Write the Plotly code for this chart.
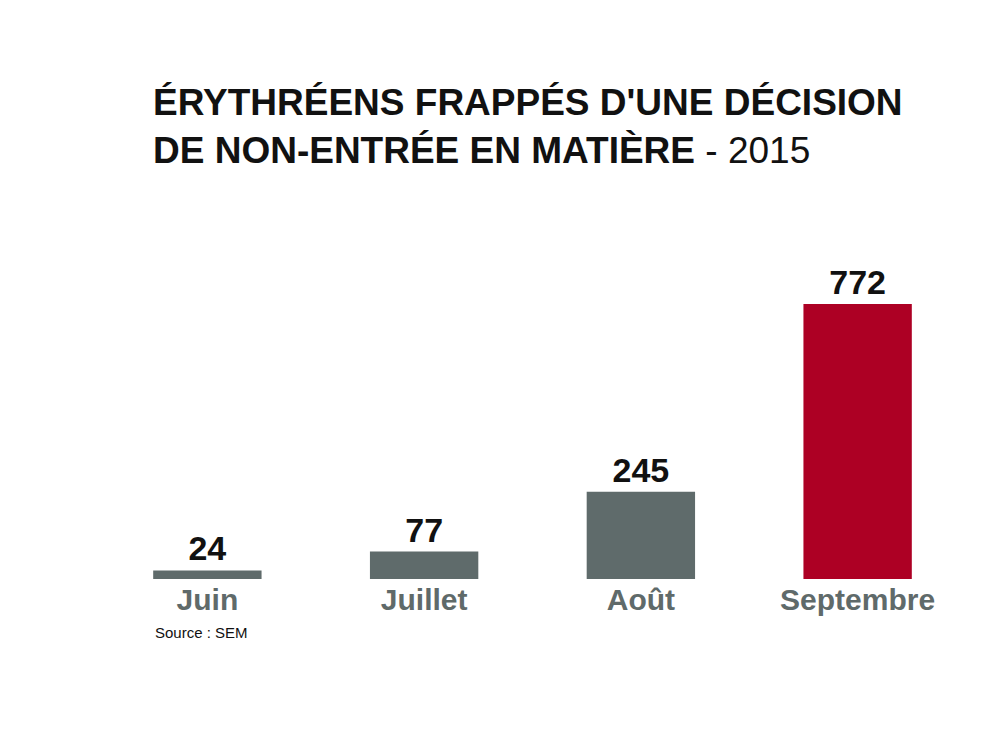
import plotly.graph_objects as go

months = ["Juin", "Juillet", "Août", "Septembre"]
values = [24, 77, 245, 772]
bar_colors = ["#5f6b6b", "#5f6b6b", "#5f6b6b", "#ad0024"]
title_bold_1 = "ÉRYTHRÉENS FRAPPÉS D'UNE DÉCISION"
title_bold_2 = "DE NON-ENTRÉE EN MATIÈRE"
title_year = "2015"
source_text = "Source : SEM"

FONT = "Liberation Sans, Arial, sans-serif"

# page offset of the figure (body margin) compensated in margins
L, R, T, B = 90.5, 24.5, 242, 166
PW = 983 - L - R
PH = 737 - T - B

fig = go.Figure(go.Bar(
    x=months,
    y=values,
    marker=dict(color=bar_colors, line=dict(width=0)),
    text=[f"<b>{v}</b>" for v in values],
    textposition="outside",
    textfont=dict(family=FONT, size=34, color="#111111"),
    cliponaxis=False,
    width=0.5,
))

fig.update_layout(
    width=983, height=737,
    paper_bgcolor="white", plot_bgcolor="white",
    margin=dict(l=L, r=R, t=T, b=B),
    showlegend=False,
    title=dict(
        text=f"<b>{title_bold_1}</b><br><b>{title_bold_2}</b> - {title_year}",
        font=dict(family=FONT, size=37, color="#111111"),
        x=145/983, xanchor="left", xref="container",
        y=1-107/737, yanchor="top", yref="container",
    ),
    xaxis=dict(
        tickvals=months,
        ticktext=[f"<b>{m}</b>" for m in months],
        tickfont=dict(family=FONT, size=30, color="#5f6a6a"),
        showline=False, showgrid=False, zeroline=False, ticks="",
    ),
    yaxis=dict(range=[0, 924], visible=False, showgrid=False, zeroline=False),
    annotations=[dict(
        text=source_text,
        x=(145 - L) / PW, xref="paper",
        y=(571 - 624) / PH, yref="paper",
        xanchor="left", yanchor="middle", showarrow=False,
        font=dict(family=FONT, size=15, color="#111111"),
    )],
)

fig.write_html("out.html")
